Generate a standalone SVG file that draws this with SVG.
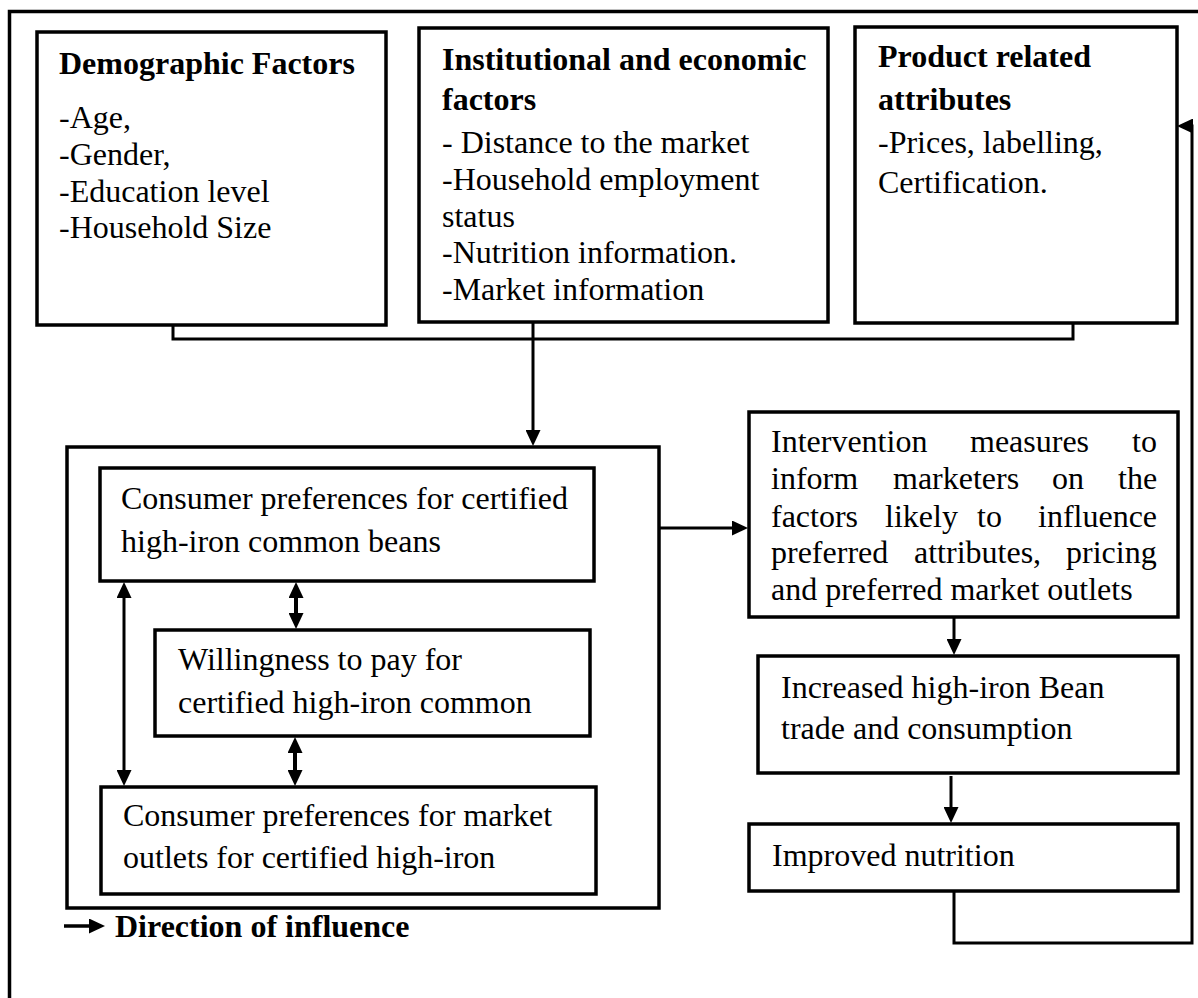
<svg xmlns="http://www.w3.org/2000/svg" width="1198" height="998" viewBox="0 0 1198 998">
<style>
.box{fill:#fff;stroke:#000;stroke-width:3.5}
.t{font-family:"Liberation Serif","Times New Roman",serif;font-size:32px;fill:#000}
.b{font-weight:bold}
.c{fill:none;stroke:#000;stroke-width:3}
</style>
<defs>
<marker id="ah" markerUnits="userSpaceOnUse" markerWidth="16" markerHeight="15" viewBox="0 0 16 15" refX="3" refY="7.5" orient="auto-start-reverse">
<path d="M0,0 L16,7.5 L0,15 Z" fill="#000"/>
</marker>
</defs>
<rect width="1198" height="998" fill="#fff"/>
<polyline class="c" points="1198,11.5 9.5,11.5 9.5,998" style="stroke-width:3.5"/>

<g id="demographic">
<rect class="box" x="37" y="32" width="349" height="293"/>
<text class="t b" x="59" y="74">Demographic Factors</text>
<text class="t" x="59" y="128">-Age,</text>
<text class="t" x="59" y="165">-Gender,</text>
<text class="t" x="59" y="202">-Education level</text>
<text class="t" x="59" y="238">-Household Size</text>
</g>

<g id="institutional">
<rect class="box" x="419" y="28" width="409" height="294"/>
<text class="t b" x="442" y="70">Institutional and economic</text>
<text class="t b" x="442" y="110">factors</text>
<text class="t" x="442" y="153">- Distance to the market</text>
<text class="t" x="442" y="190">-Household employment</text>
<text class="t" x="442" y="227">status</text>
<text class="t" x="442" y="263">-Nutrition information.</text>
<text class="t" x="442" y="300">-Market information</text>
</g>

<g id="product">
<rect class="box" x="855" y="27" width="322" height="296"/>
<text class="t b" x="878" y="67">Product related</text>
<text class="t b" x="878" y="110">attributes</text>
<text class="t" x="878" y="153">-Prices, labelling,</text>
<text class="t" x="878" y="193">Certification.</text>
</g>

<g id="consumer-group">
<rect class="box" x="67" y="447" width="592" height="461"/>
</g>

<g id="pref-beans">
<rect class="box" x="100" y="468" width="494" height="113"/>
<text class="t" x="121" y="509">Consumer preferences for certified</text>
<text class="t" x="121" y="552">high-iron common beans</text>
</g>

<g id="wtp">
<rect class="box" x="155" y="630" width="435" height="106"/>
<text class="t" x="178" y="670">Willingness to pay for</text>
<text class="t" x="178" y="713">certified high-iron common</text>
</g>

<g id="pref-outlets">
<rect class="box" x="101" y="787" width="495" height="107"/>
<text class="t" x="123" y="826">Consumer preferences for market</text>
<text class="t" x="123" y="868">outlets for certified high-iron</text>
</g>

<g id="intervention">
<rect class="box" x="749" y="412" width="429" height="205"/>
<text class="t" y="452"><tspan x="771">Intervention</tspan><tspan x="970">measures</tspan><tspan x="1132">to</tspan></text>
<text class="t" y="489"><tspan x="771">inform</tspan><tspan x="893">marketers</tspan><tspan x="1052">on</tspan><tspan x="1118">the</tspan></text>
<text class="t" y="527"><tspan x="771">factors</tspan><tspan x="885">likely</tspan><tspan x="977">to</tspan><tspan x="1038">influence</tspan></text>
<text class="t" y="563"><tspan x="771">preferred</tspan><tspan x="914">attributes,</tspan><tspan x="1066">pricing</tspan></text>
<text class="t" x="771" y="600">and preferred market outlets</text>
</g>

<g id="increased">
<rect class="box" x="758" y="656" width="420" height="117"/>
<text class="t" x="781" y="698">Increased high-iron Bean</text>
<text class="t" x="781" y="739">trade and consumption</text>
</g>

<g id="nutrition">
<rect class="box" x="749" y="824" width="429" height="67"/>
<text class="t" x="772" y="866">Improved nutrition</text>
</g>

<g id="legend">
<line class="c" x1="64" y1="926" x2="92" y2="926" marker-end="url(#ah)" style="stroke-width:3.5"/>
<text class="t b" x="115" y="937">Direction of influence</text>
</g>

<g id="connectors">
<polyline class="c" points="173,325 173,339 1073,339 1073,324"/>
<line class="c" x1="533" y1="322" x2="533" y2="433" marker-end="url(#ah)"/>
<line class="c" x1="659" y1="528" x2="735" y2="528" marker-end="url(#ah)"/>
<line class="c" x1="296" y1="595" x2="296" y2="616" marker-start="url(#ah)" marker-end="url(#ah)" style="stroke-width:4"/>
<line class="c" x1="295" y1="750" x2="295" y2="773" marker-start="url(#ah)" marker-end="url(#ah)" style="stroke-width:4"/>
<line class="c" x1="124" y1="595" x2="124" y2="773" marker-start="url(#ah)" marker-end="url(#ah)"/>
<line class="c" x1="954" y1="617" x2="954" y2="642" marker-end="url(#ah)"/>
<line class="c" x1="951" y1="776" x2="951" y2="810" marker-end="url(#ah)"/>
<polyline class="c" points="954,891 954,943 1192,943 1192,126 1191,126"/>
<line class="c" x1="1192" y1="126" x2="1190" y2="126" marker-end="url(#ah)"/>
</g>
</svg>
